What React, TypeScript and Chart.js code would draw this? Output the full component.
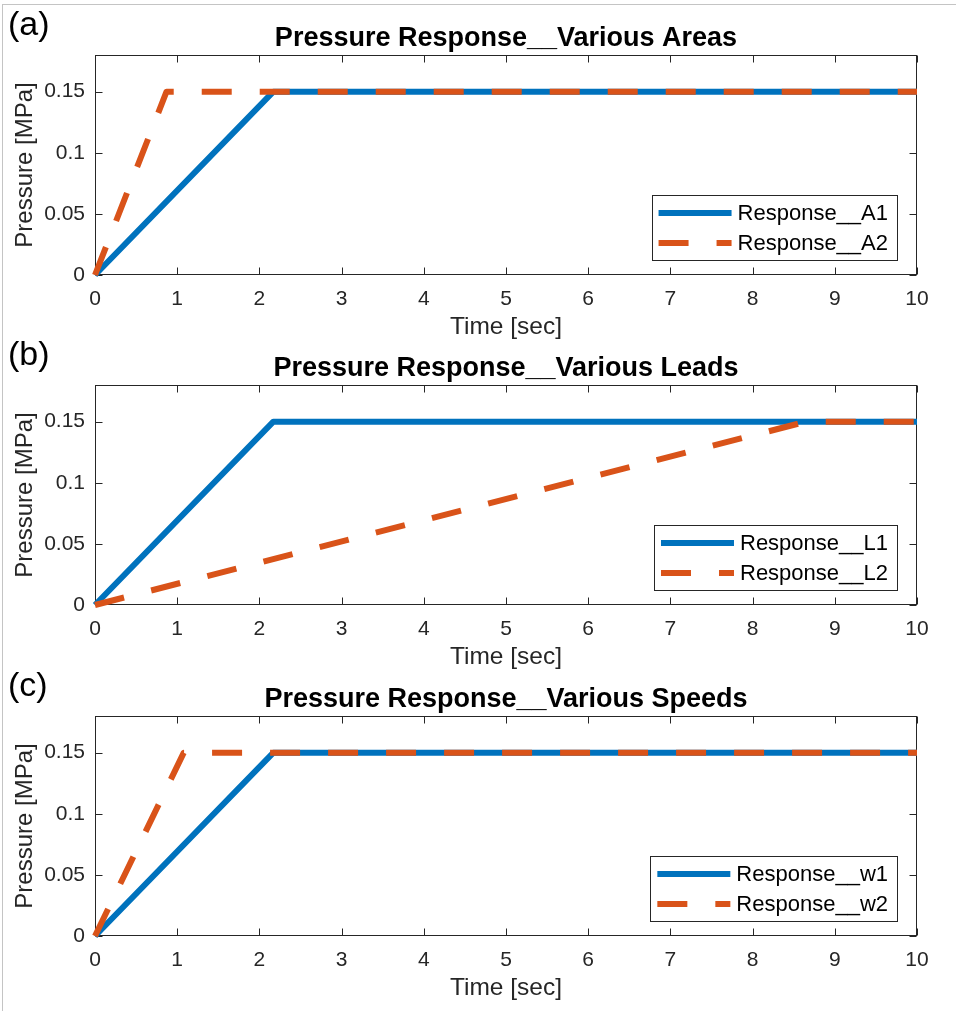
import React, { useEffect, useRef } from "react";
import { Chart, registerables } from "chart.js";

Chart.register(...registerables);

// ---------- data ----------
const X_TICKS = [0, 1, 2, 3, 4, 5, 6, 7, 8, 9, 10];
const X_TICK_LABELS = ["0", "1", "2", "3", "4", "5", "6", "7", "8", "9", "10"];
const Y_TICKS = [0, 0.05, 0.1, 0.15];
const Y_TICK_LABELS = ["0", "0.05", "0.1", "0.15"];
const X_MIN = 0;
const X_MAX = 10;
const Y_MIN = 0;
const Y_MAX = 0.18;

const PANEL_LABELS = ["(a)", "(b)", "(c)"];
const TITLES = [
  "Pressure Response__Various Areas",
  "Pressure Response__Various Leads",
  "Pressure Response__Various Speeds",
];
const X_TITLE = "Time [sec]";
const Y_TITLE = "Pressure [MPa]";

// panel (a)
const LEGEND_A = ["Response__A1", "Response__A2"];
const TIME_A1 = [0, 2.17, 10];
const PRESSURE_A1 = [0, 0.15, 0.15];
const TIME_A2 = [0, 0.87, 10];
const PRESSURE_A2 = [0, 0.15, 0.15];

// panel (b)
const LEGEND_B = ["Response__L1", "Response__L2"];
const TIME_L1 = [0, 2.17, 10];
const PRESSURE_L1 = [0, 0.15, 0.15];
const TIME_L2 = [0, 8.65, 10];
const PRESSURE_L2 = [0, 0.15, 0.15];

// panel (c)
const LEGEND_C = ["Response__w1", "Response__w2"];
const TIME_W1 = [0, 2.17, 10];
const PRESSURE_W1 = [0, 0.15, 0.15];
const TIME_W2 = [0, 1.08, 10];
const PRESSURE_W2 = [0, 0.15, 0.15];

// ---------- style ----------
const FONT = "'Liberation Sans', Arial, Helvetica, sans-serif";
const AXIS_COLOR = "#262626";
const BLUE = "#0072BD";
const ORANGE = "#D95319";
const DASH = [30, 28];
const CANVAS_W = 956;
const CANVAS_H = 350;
const PANEL_TOPS = [0, 330, 661];

type Series = { label: string; t: number[]; p: number[]; color: string; dash: number[] };

const toPoints = (t: number[], p: number[]) => t.map((x, i) => ({ x, y: p[i] }));

const decorPlugin = {
  id: "matlabDecor",
  beforeDatasetsDraw(chart: any) {
    const { ctx, chartArea } = chart;
    const L = Math.round(chartArea.left) + 0.5;
    const R = Math.round(chartArea.right) - 0.5;
    const T = Math.round(chartArea.top) + 0.5;
    const B = Math.round(chartArea.bottom) - 0.5;
    ctx.save();
    ctx.strokeStyle = AXIS_COLOR;
    ctx.lineWidth = 1;
    ctx.strokeRect(L, T, R - L, B - T);
    const tl = 7;
    ctx.beginPath();
    chart.scales.x.ticks.forEach((tk: any) => {
      const px = Math.round(chart.scales.x.getPixelForValue(tk.value)) + 0.5;
      ctx.moveTo(px, B);
      ctx.lineTo(px, B - tl);
      ctx.moveTo(px, T);
      ctx.lineTo(px, T + tl);
    });
    chart.scales.y.ticks.forEach((tk: any) => {
      const py = Math.round(chart.scales.y.getPixelForValue(tk.value)) + 0.5;
      ctx.moveTo(L, py);
      ctx.lineTo(L + tl, py);
      ctx.moveTo(R, py);
      ctx.lineTo(R - tl, py);
    });
    ctx.stroke();
    ctx.restore();
  },
  afterDatasetsDraw(chart: any, _args: any, opts: any) {
    const { ctx, chartArea } = chart;
    const ds = chart.data.datasets;
    ctx.save();
    // legend
    ctx.font = `22px ${FONT}`;
    const textW = Math.max(...ds.map((d: any) => ctx.measureText(d.label).width));
    const padL = 7;
    const sampleLen = 73;
    const gap = 6;
    const padR = 9;
    const boxW = padL + sampleLen + gap + textW + padR;
    const boxH = 65;
    const boxRight = Math.round(chartArea.right) - 20;
    const boxBottom = Math.round(chartArea.bottom) - 15;
    const bx = boxRight - boxW;
    const by = boxBottom - boxH;
    ctx.fillStyle = "#ffffff";
    ctx.fillRect(bx, by, boxW, boxH);
    ctx.strokeStyle = AXIS_COLOR;
    ctx.lineWidth = 1;
    ctx.strokeRect(Math.round(bx) + 0.5, by + 0.5, Math.round(boxW), boxH);
    const rows = [18, 48];
    ds.forEach((d: any, i: number) => {
      const y = by + rows[i];
      ctx.strokeStyle = d.borderColor;
      ctx.lineWidth = d.borderWidth;
      ctx.lineCap = "butt";
      ctx.setLineDash(d.borderDash || []);
      ctx.beginPath();
      ctx.moveTo(bx + padL, y);
      ctx.lineTo(bx + padL + sampleLen, y);
      ctx.stroke();
      ctx.setLineDash([]);
      ctx.fillStyle = "#000000";
      ctx.textBaseline = "middle";
      ctx.textAlign = "left";
      ctx.fillText(d.label, bx + padL + sampleLen + gap, y + 1);
    });
    // panel label
    ctx.font = `34px ${FONT}`;
    ctx.fillStyle = "#000000";
    ctx.textBaseline = "alphabetic";
    ctx.textAlign = "left";
    ctx.fillText(opts.panelLabel, 8, 35);
    ctx.restore();
  },
};

function Panel({ top, title, label, series }: { top: number; title: string; label: string; series: Series[] }) {
  const ref = useRef<HTMLCanvasElement | null>(null);
  useEffect(() => {
    if (!ref.current) return;
    const chart = new Chart(ref.current, {
      type: "line",
      data: {
        datasets: series.map((s, i) => ({
          label: s.label,
          data: toPoints(s.t, s.p),
          borderColor: s.color,
          backgroundColor: s.color,
          borderWidth: 6,
          borderDash: s.dash,
          borderCapStyle: "butt",
          borderJoinStyle: "round",
          pointRadius: 0,
          tension: 0,
          fill: false,
          clip: false,
          order: series.length - i,
        })),
      },
      options: {
        responsive: false,
        animation: false,
        devicePixelRatio: 1,
        layout: { padding: { left: 0, right: 39, top: 0, bottom: 0 } },
        plugins: {
          legend: { display: false },
          tooltip: { enabled: false },
          title: {
            display: true,
            text: title,
            fullSize: false,
            color: "#000000",
            font: { family: FONT, size: 27, weight: "bold", lineHeight: 1.2 },
            padding: { top: 22.6, bottom: 0 },
          },
          matlabDecor: { panelLabel: label },
        } as any,
        scales: {
          x: {
            type: "linear",
            min: X_MIN,
            max: X_MAX,
            afterBuildTicks: (s: any) => {
              s.ticks = X_TICKS.map((v) => ({ value: v }));
            },
            afterFit: (s: any) => {
              s.height = 75;
            },
            grid: { display: false, drawTicks: false },
            border: { display: false },
            ticks: {
              padding: 12,
              color: AXIS_COLOR,
              font: { family: FONT, size: 21 },
              maxRotation: 0,
              autoSkip: false,
              callback: (_v: any, i: number) => X_TICK_LABELS[i],
            },
            title: {
              display: true,
              text: X_TITLE,
              color: AXIS_COLOR,
              font: { family: FONT, size: 24.5 },
              padding: { top: 0, bottom: 8 },
            },
          },
          y: {
            type: "linear",
            min: Y_MIN,
            max: Y_MAX,
            afterBuildTicks: (s: any) => {
              s.ticks = Y_TICKS.map((v) => ({ value: v }));
            },
            afterFit: (s: any) => {
              s.width = 95;
            },
            grid: { display: false, drawTicks: false },
            border: { display: false },
            ticks: {
              padding: 10,
              color: AXIS_COLOR,
              font: { family: FONT, size: 21 },
              autoSkip: false,
              callback: (_v: any, i: number) => Y_TICK_LABELS[i],
            },
            title: {
              display: true,
              text: Y_TITLE,
              color: AXIS_COLOR,
              font: { family: FONT, size: 24 },
              padding: { top: 11, bottom: 0 },
            },
          },
        },
      } as any,
      plugins: [decorPlugin as any],
    });
    return () => chart.destroy();
  }, [title, label, series]);
  return (
    <canvas
      ref={ref}
      width={CANVAS_W}
      height={CANVAS_H}
      style={{ position: "absolute", left: 0, top, width: CANVAS_W, height: CANVAS_H }}
    />
  );
}

const SERIES_A: Series[] = [
  { label: LEGEND_A[0], t: TIME_A1, p: PRESSURE_A1, color: BLUE, dash: [] },
  { label: LEGEND_A[1], t: TIME_A2, p: PRESSURE_A2, color: ORANGE, dash: DASH },
];
const SERIES_B: Series[] = [
  { label: LEGEND_B[0], t: TIME_L1, p: PRESSURE_L1, color: BLUE, dash: [] },
  { label: LEGEND_B[1], t: TIME_L2, p: PRESSURE_L2, color: ORANGE, dash: DASH },
];
const SERIES_C: Series[] = [
  { label: LEGEND_C[0], t: TIME_W1, p: PRESSURE_W1, color: BLUE, dash: [] },
  { label: LEGEND_C[1], t: TIME_W2, p: PRESSURE_W2, color: ORANGE, dash: DASH },
];
const ALL_SERIES = [SERIES_A, SERIES_B, SERIES_C];

export default function App() {
  return (
    <div style={{ position: "absolute", left: 0, top: 0, width: 956, height: 1011, background: "#ffffff", overflow: "hidden" }}>
      <div
        style={{
          position: "absolute",
          left: 2,
          top: 4,
          width: 954,
          height: 1007,
          borderTop: "1px solid #c4c4c4",
          borderLeft: "1px solid #c4c4c4",
          boxSizing: "border-box",
        }}
      />
      {PANEL_TOPS.map((top, i) => (
        <Panel key={i} top={top} title={TITLES[i]} label={PANEL_LABELS[i]} series={ALL_SERIES[i]} />
      ))}
    </div>
  );
}
